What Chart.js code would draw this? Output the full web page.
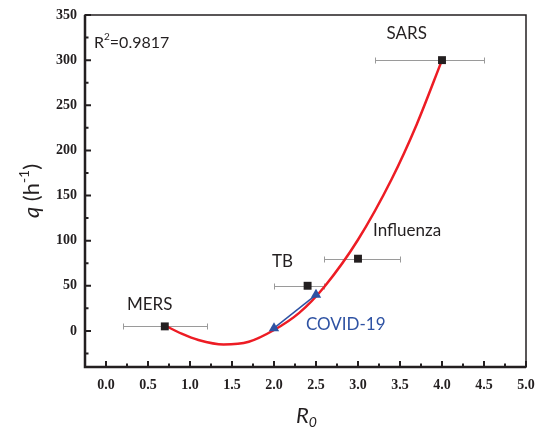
<!DOCTYPE html>
<html lang="en">
<head>
  <meta charset="UTF-8">
  <title>q vs R0</title>
  <script src="https://cdn.jsdelivr.net/npm/chart.js"></script>
  <style>
    html, body { margin: 0; padding: 0; background: #fff; }
    #wrap { width: 539px; height: 432px; }
  </style>
</head>
<body>
  <div id="wrap"><canvas id="chart" width="539" height="432"></canvas></div>
  <script>
    // observed diseases (black squares) with horizontal error bars
    const diseases = ['MERS', 'TB', 'Influenza', 'SARS'];
    const diseaseR0 = [0.7, 2.4, 3.0, 4.0];
    const diseaseQ = [5, 50, 80, 300];
    const r0Low = [0.2, 2.0, 2.6, 3.2];
    const r0High = [1.2, 2.6, 3.5, 4.5];

    // COVID-19 estimates (blue triangles)
    const covidR0 = [2.0, 2.5];
    const covidQ = [3, 40];

    // fitted curve
    const fitR0 = [0.7, 0.9, 1.1, 1.4, 1.7, 2.0, 2.3, 2.6, 3.0, 3.4, 3.7, 4.0];
    const fitQ = [6, -3, -10, -15, -12, 1, 20, 49, 101, 168, 229, 300];

    const xTicks = [0, 0.5, 1, 1.5, 2, 2.5, 3, 3.5, 4, 4.5, 5];
    const yTicks = [0, 50, 100, 150, 200, 250, 300, 350];

    const INK = '#231f20';
    const RED = '#ed1c24';
    const BLUE = '#2e52a3';
    const TXT = "'Lato', 'Open Sans', sans-serif";

    // annotation text, placed in data units
    const notes = [
      { text: 'MERS', x: 0.52, y: 29, align: 'center', color: INK },
      { text: 'TB', x: 2.10, y: 77, align: 'center', color: INK },
      { text: 'Influenza', x: 3.18, y: 111, align: 'left', color: INK },
      { text: 'SARS', x: 3.58, y: 329, align: 'center', color: INK },
      { text: 'COVID-19', x: 2.38, y: 7, align: 'left', color: BLUE }
    ];

    const toXY = (xs, ys) => xs.map((x, i) => ({ x: x, y: ys[i] }));

    const decor = {
      id: 'decor',
      beforeDatasetsDraw(chart) {
        const { ctx } = chart;
        const xs = chart.scales.x, ys = chart.scales.y;
        ctx.save();
        ctx.strokeStyle = '#9a9a9a';
        ctx.lineWidth = 1;
        diseaseR0.forEach((r, i) => {
          const py = Math.round(ys.getPixelForValue(diseaseQ[i])) + 0.5;
          const x1 = Math.round(xs.getPixelForValue(r0Low[i])) + 0.5;
          const x2 = Math.round(xs.getPixelForValue(r0High[i])) + 0.5;
          ctx.beginPath();
          ctx.moveTo(x1, py); ctx.lineTo(x2, py);
          ctx.moveTo(x1, py - 3); ctx.lineTo(x1, py + 3);
          ctx.moveTo(x2, py - 3); ctx.lineTo(x2, py + 3);
          ctx.stroke();
        });
        ctx.restore();
      },
      afterDraw(chart) {
        const { ctx, chartArea: a } = chart;
        const xs = chart.scales.x, ys = chart.scales.y;
        ctx.save();
        // frame
        ctx.strokeStyle = INK;
        ctx.lineWidth = 1.5;
        ctx.strokeRect(a.left, a.top, a.right - a.left, a.bottom - a.top);
        ctx.lineWidth = 2.5;
        ctx.beginPath();
        ctx.moveTo(a.left, a.top); ctx.lineTo(a.left, a.bottom); ctx.lineTo(a.right, a.bottom);
        ctx.stroke();
        // inward ticks
        ctx.lineWidth = 2;
        ctx.beginPath();
        for (let v = 0; v <= 5.001; v += 0.25) {
          const px = xs.getPixelForValue(v);
          const len = Math.abs(v * 2 - Math.round(v * 2)) < 1e-6 ? 6 : 3.5;
          ctx.moveTo(px, a.bottom); ctx.lineTo(px, a.bottom - len);
        }
        for (let v = -25; v <= 350; v += 25) {
          const py = ys.getPixelForValue(v);
          const len = v % 50 === 0 ? 6 : 3.5;
          ctx.moveTo(a.left, py); ctx.lineTo(a.left + len, py);
        }
        ctx.stroke();

        // annotations
        ctx.textBaseline = 'middle';
        ctx.font = '17px ' + TXT;
        notes.forEach(n => {
          ctx.fillStyle = n.color;
          ctx.textAlign = n.align;
          ctx.fillText(n.text, xs.getPixelForValue(n.x), ys.getPixelForValue(n.y));
        });

        // R^2
        ctx.fillStyle = INK;
        ctx.textAlign = 'left';
        let tx = a.left + 9, ty = a.top + 28;
        ctx.font = '16px ' + TXT;
        ctx.fillText('R', tx, ty);
        tx += ctx.measureText('R').width;
        ctx.font = '10px ' + TXT;
        ctx.fillText('2', tx, ty - 6);
        tx += ctx.measureText('2').width;
        ctx.font = '16px ' + TXT;
        ctx.fillText('=0.9817', tx, ty);

        // x title: R0
        ctx.font = 'italic 22px ' + TXT;
        const wR = ctx.measureText('R').width;
        ctx.font = 'italic 14px ' + TXT;
        const w0 = ctx.measureText('0').width;
        let sx = (a.left + a.right) / 2 + 1 - (wR + w0) / 2;
        ctx.font = 'italic 22px ' + TXT;
        ctx.fillText('R', sx, 416);
        ctx.font = 'italic 14px ' + TXT;
        ctx.fillText('0', sx + wR, 422);

        // y title: q (h-1)
        ctx.translate(32, (a.top + a.bottom) / 2);
        ctx.rotate(-Math.PI / 2);
        const parts = [
          { t: 'q', f: 'italic 22px ' + TXT, dy: 0 },
          { t: ' (h', f: '22px ' + TXT, dy: 0 },
          { t: '-1', f: '14px ' + TXT, dy: -8 },
          { t: ')', f: '22px ' + TXT, dy: 0 }
        ];
        let total = 0;
        parts.forEach(p => { ctx.font = p.f; p.w = ctx.measureText(p.t).width; total += p.w; });
        let px = -total / 2;
        parts.forEach(p => {
          ctx.font = p.f;
          ctx.fillText(p.t, px, p.dy);
          px += p.w;
        });
        ctx.restore();
      }
    };

    new Chart(document.getElementById('chart'), {
      type: 'scatter',
      data: {
        datasets: [
          {
            label: 'Diseases',
            data: toXY(diseaseR0, diseaseQ),
            pointStyle: 'rect',
            pointRadius: 5.6,
            backgroundColor: INK,
            borderColor: INK,
            borderWidth: 0
          },
          {
            label: 'COVID-19',
            data: toXY(covidR0, covidQ),
            showLine: true,
            borderColor: BLUE,
            borderWidth: 1.5,
            pointStyle: 'triangle',
            pointRadius: 6,
            pointBackgroundColor: BLUE,
            pointBorderWidth: 0
          },
          {
            label: 'Fit',
            data: toXY(fitR0, fitQ),
            showLine: true,
            borderColor: RED,
            borderWidth: 2.5,
            pointRadius: 0,
            cubicInterpolationMode: 'monotone'
          }
        ]
      },
      options: {
        responsive: false,
        animation: false,
        layout: { padding: { left: 0, right: 13, top: 15, bottom: 0 } },
        plugins: { legend: { display: false }, tooltip: { enabled: false } },
        scales: {
          x: {
            type: 'linear',
            min: -0.25,
            max: 5,
            afterBuildTicks: s => { s.ticks = xTicks.map(v => ({ value: v })); },
            afterFit: s => { s.height = 65; s.paddingLeft = 0; s.paddingRight = 0; },
            grid: { display: false, drawTicks: false },
            border: { display: false },
            ticks: {
              padding: 10,
              color: INK,
              font: { family: "'Liberation Serif', serif", weight: 'bold', size: 14 },
              callback: v => Number(v).toFixed(1),
              maxRotation: 0
            }
          },
          y: {
            type: 'linear',
            min: -40,
            max: 350,
            afterBuildTicks: s => { s.ticks = yTicks.map(v => ({ value: v })); },
            afterFit: s => { s.width = 85; s.paddingTop = 0; s.paddingBottom = 0; },
            grid: { display: false, drawTicks: false },
            border: { display: false },
            ticks: {
              padding: 8,
              color: INK,
              font: { family: "'Liberation Serif', serif", weight: 'bold', size: 14 }
            }
          }
        }
      },
      plugins: [decor]
    });
  </script>
</body>
</html>
